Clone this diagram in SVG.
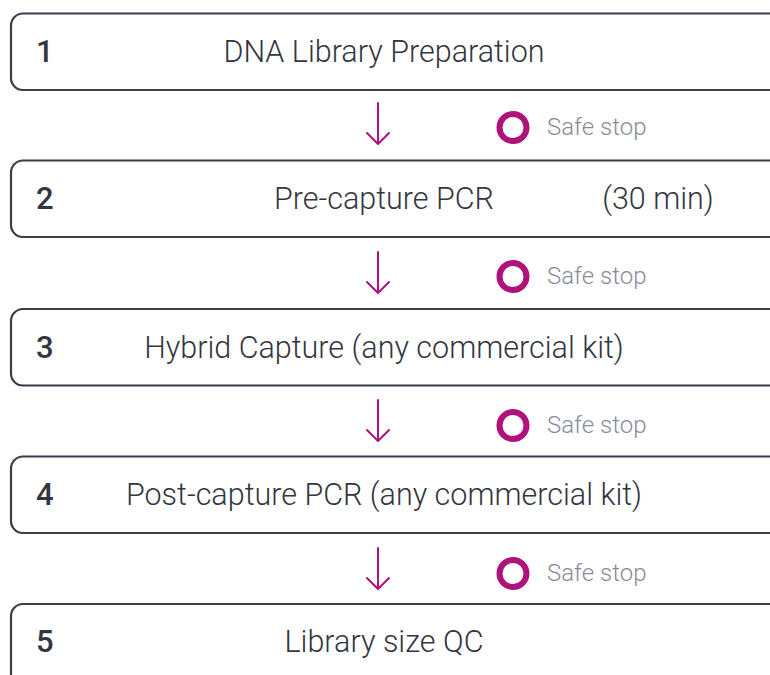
<svg xmlns="http://www.w3.org/2000/svg" width="770" height="675" viewBox="0 0 770 675">
<defs>
<style>
.box{fill:#fff;stroke:#3a3d4a;stroke-width:2.2}
.num{font-family:Roboto,"Liberation Sans",sans-serif;font-size:31px;font-weight:500;fill:#33363f}
.lbl{font-family:Roboto,"Liberation Sans",sans-serif;font-size:30.5px;font-weight:300;fill:#33363f;text-anchor:middle}
.arr{fill:none;stroke:#b0127c;stroke-width:2;stroke-linecap:round;stroke-linejoin:round}
.ring{fill:none;stroke:#b0127c;stroke-width:6}
.ss{font-family:Roboto,"Liberation Sans",sans-serif;font-size:24px;font-weight:300;fill:#878c9a}
</style>
</defs>
<rect width="770" height="675" fill="#fff"/>
<g id="step1">
<rect class="box" x="11" y="13.5" width="800" height="76.5" rx="12"/>
<text class="num" x="36" y="62">1</text>
<text class="lbl" x="384" y="62">DNA Library Preparation</text>
</g>
<g id="step2">
<rect class="box" x="11" y="160.5" width="800" height="76.5" rx="12"/>
<text class="num" x="36" y="209">2</text>
<text class="lbl" x="384" y="209">Pre-capture PCR</text>
<text class="lbl" x="658" y="209">(30 min)</text>
</g>
<g id="step3">
<rect class="box" x="11" y="309" width="800" height="76.5" rx="12"/>
<text class="num" x="36" y="358">3</text>
<text class="lbl" x="384" y="358">Hybrid Capture (any commercial kit)</text>
</g>
<g id="step4">
<rect class="box" x="11" y="456.5" width="800" height="76.5" rx="12"/>
<text class="num" x="36" y="505">4</text>
<text class="lbl" x="384" y="505">Post-capture PCR (any commercial kit)</text>
</g>
<g id="step5">
<rect class="box" x="11" y="604" width="800" height="90" rx="12"/>
<text class="num" x="36" y="652">5</text>
<text class="lbl" x="384" y="652">Library size QC</text>
</g>
<g id="connectors">
<path class="arr" d="M378 103V144M367 133L378 144L389 133"/>
<path class="arr" d="M378 252V293M367 282L378 293L389 282"/>
<path class="arr" d="M378 400V441M367 430L378 441L389 430"/>
<path class="arr" d="M378 548V589M367 578L378 589L389 578"/>
</g>
<g id="safestop1"><circle class="ring" cx="513" cy="127.5" r="13.5"/><text class="ss" x="547" y="135">Safe stop</text></g>
<g id="safestop2"><circle class="ring" cx="513" cy="276.5" r="13.5"/><text class="ss" x="547" y="284">Safe stop</text></g>
<g id="safestop3"><circle class="ring" cx="513" cy="425.5" r="13.5"/><text class="ss" x="547" y="433">Safe stop</text></g>
<g id="safestop4"><circle class="ring" cx="513" cy="573.5" r="13.5"/><text class="ss" x="547" y="581">Safe stop</text></g>
</svg>
